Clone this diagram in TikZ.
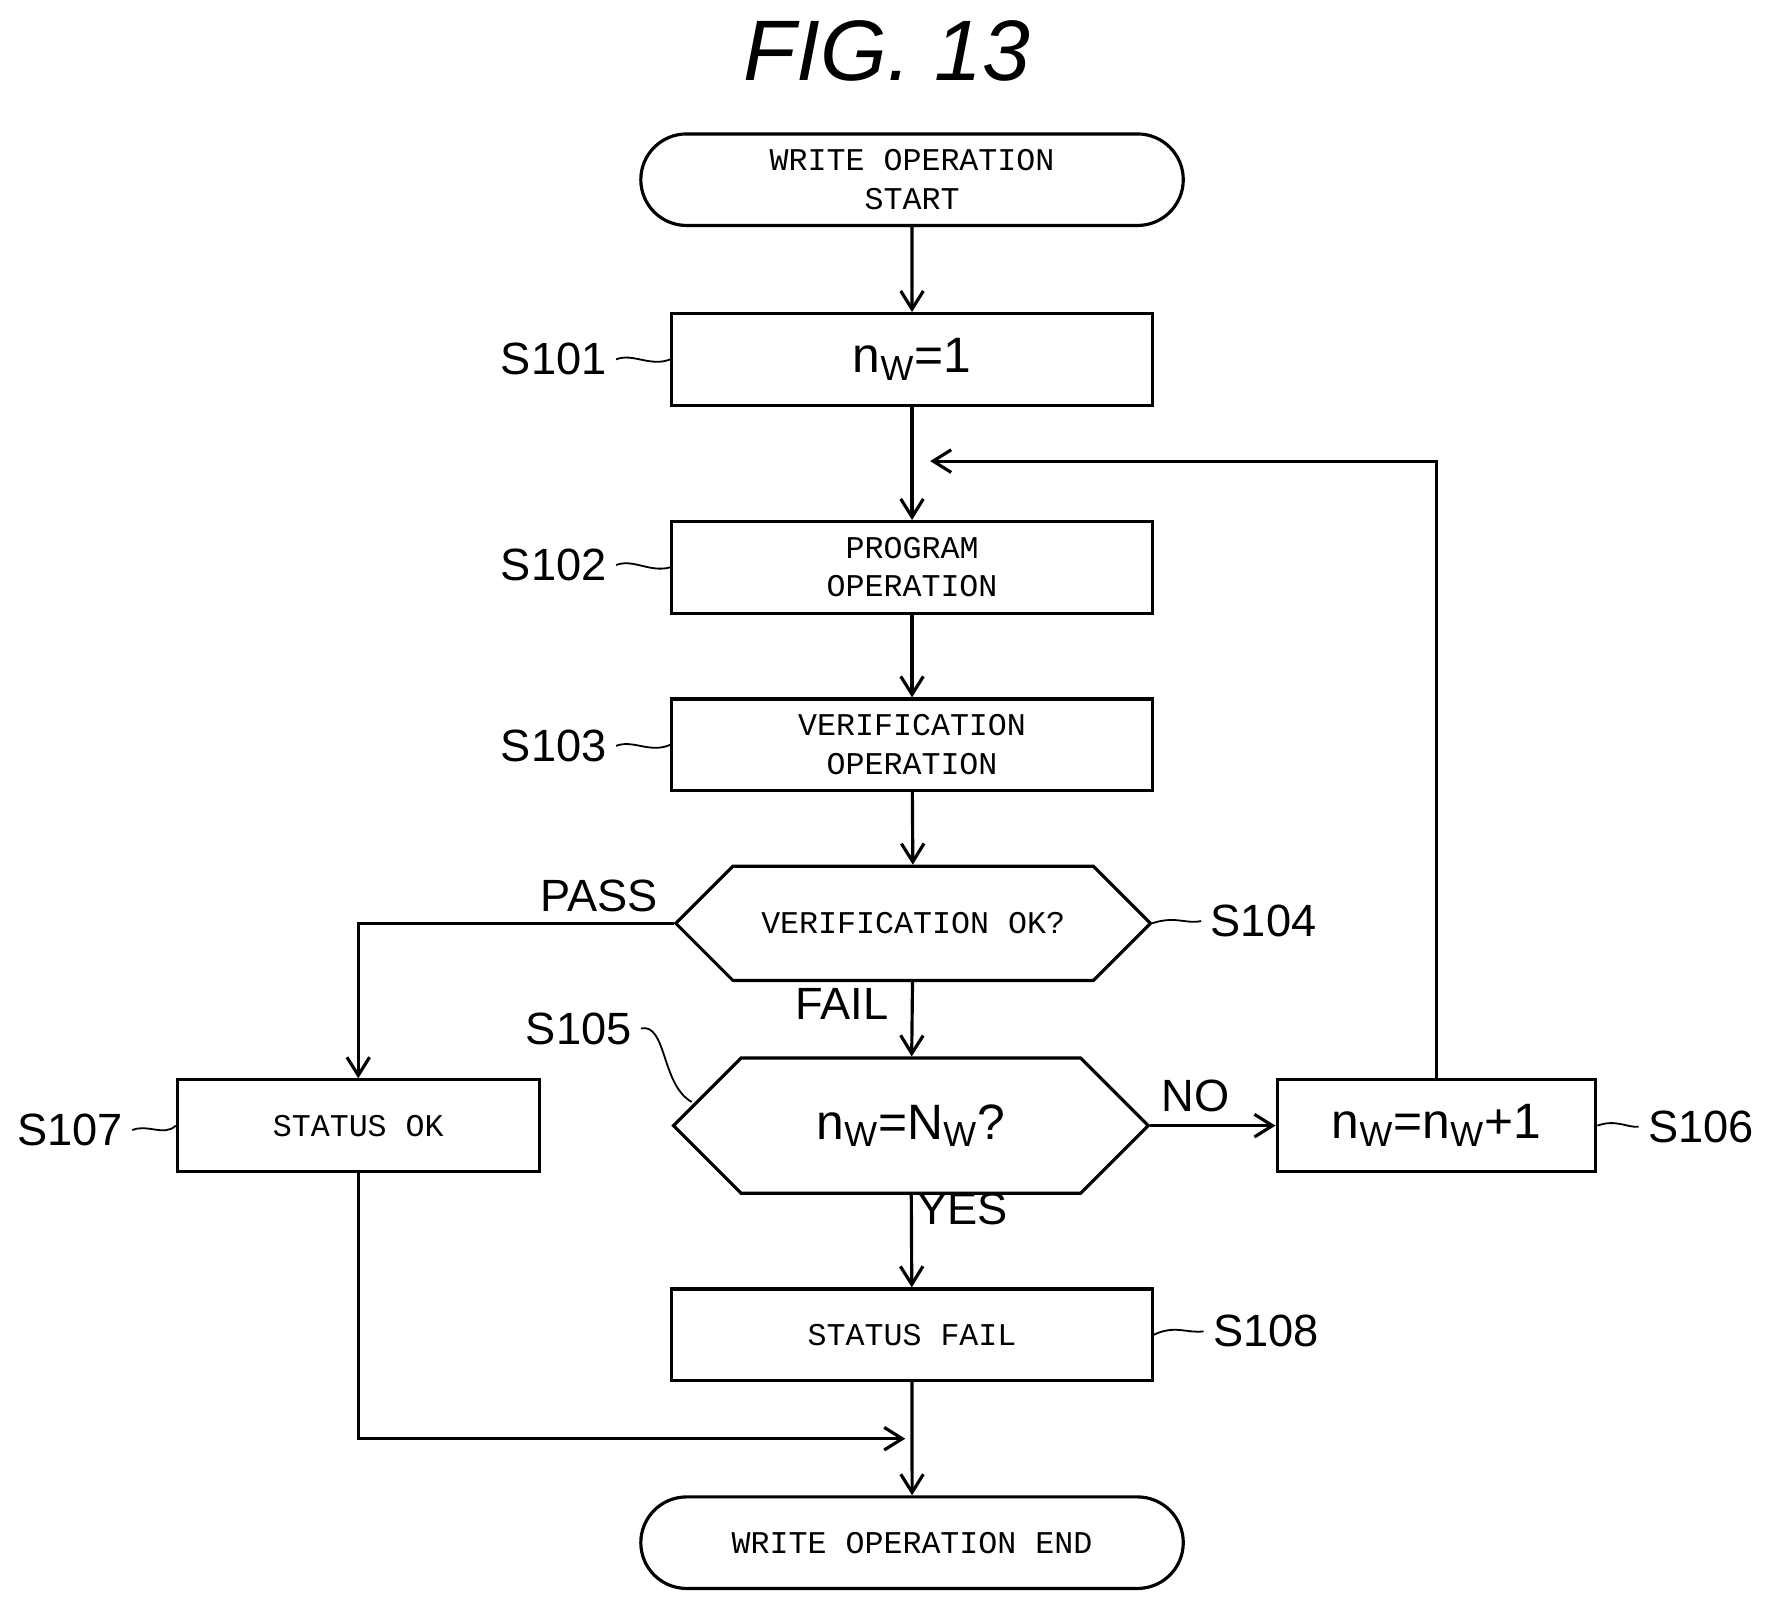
\documentclass[tikz,border=0pt]{standalone}
\usepackage{fontspec}
\setmainfont{Liberation Sans}
\newfontfamily\monof{Liberation Mono}
\usetikzlibrary{arrows.meta,shapes.geometric,shapes.misc}
\begin{document}
\begin{tikzpicture}[x=0.5pt,y=-0.5pt,
  box/.style={draw,line width=1.4pt,minimum width=212.5pt,minimum height=40.5pt,font=\monof\fontsize{14}{17}\selectfont,align=center,inner sep=0},
  term/.style={box,rounded rectangle,minimum width=240pt},
  hex/.style={draw,line width=1.4pt,chamfered rectangle,chamfered rectangle xsep=11pt,chamfered rectangle ysep=20.5pt,minimum width=210pt,minimum height=40.5pt,font=\monof\fontsize{14}{17}\selectfont,inner sep=0},
  lab/.style={font=\fontsize{20}{24}\selectfont,inner sep=0},
  bigt/.style={font=\fontsize{22}{26}\selectfont},
  arr/.style={line width=1.4pt,-{Straight Barb[length=8pt,width=10pt]}},
  ln/.style={line width=1.4pt},
  lead/.style={line width=0.8pt}]
\useasboundingbox (0,0) rectangle (1575,1434);
\node[font=\fontsize{38}{44}\selectfont\itshape] (title) at (785,45) {FIG. 13};
\node[term] (start) at (807,159) {WRITE OPERATION\\START};
\node[box,bigt] (s101) at (807,318) {n\textsubscript{W}=1};
\node[box] (s102) at (807,502) {PROGRAM\\OPERATION};
\node[box] (s103) at (807,659) {VERIFICATION\\OPERATION};
\node[hex] (s104) at (808,817) {VERIFICATION OK?};
\node[hex,bigt] (s105) at (806,996) {n\textsubscript{W}=N\textsubscript{W}?};
\node[box,bigt,minimum width=141pt] (s106) at (1271,996) {n\textsubscript{W}=n\textsubscript{W}+1};
\node[box,minimum width=160pt] (s107) at (317,996) {STATUS OK};
\node[box] (s108) at (807,1181) {STATUS FAIL};
\node[term] (end) at (807,1365) {WRITE OPERATION END};
\coordinate (j1) at (807,408);
\coordinate (j2) at (807,1273);
\draw[arr] (start) -- (s101);
\draw[ln] (s101) -- (j1);
\draw[arr] (j1) -- (s102);
\draw[arr] (s102) -- (s103);
\draw[arr] (s103) -- (s104);
\draw[arr] (s104) -- (s105);
\draw[arr] (s105) -- (s108);
\draw[arr] (s105.east) -- (s106.west);
\draw[arr] (s106.north) |- ([xshift=8pt]j1);
\draw[arr] (s104.west) -| (s107.north);
\draw[arr] (s107.south) |- ([xshift=-3pt]j2);
\draw[arr] (s108) -- (end);
\node[lab] at (530,793) {PASS};
\node[lab] at (745,888) {FAIL};
\node[lab] at (1058,970) {NO};
\node[lab] at (852,1070) {YES};
\node[lab] (l101) at (490,318) {S101};
\node[lab] (l102) at (490,500) {S102};
\node[lab] (l103) at (490,660) {S103};
\node[lab] (l104) at (1118,815) {S104};
\node[lab] (l105) at (512,910) {S105};
\node[lab] (l106) at (1505,997) {S106};
\node[lab] (l107) at (62,1000) {S107};
\node[lab] (l108) at (1120,1178) {S108};
\draw[lead] ([xshift=4]l101.east) .. controls (560,312) and (575,325) .. (s101.west);
\draw[lead] ([xshift=4]l102.east) .. controls (560,494) and (575,507) .. (s102.west);
\draw[lead] ([xshift=4]l103.east) .. controls (560,654) and (575,667) .. (s103.west);
\draw[lead] (s104.east) .. controls (1040,810) and (1050,818) .. ([xshift=-4]l104.west);
\draw[lead] ([xshift=4]l105.east) .. controls (590,905) and (585,960) .. (612,975);
\draw[lead] (s106.east) .. controls (1430,990) and (1440,998) .. ([xshift=-4]l106.west);
\draw[lead] ([xshift=4]l107.east) .. controls (130,994) and (145,1006) .. (s107.west);
\draw[lead] (s108.east) .. controls (1040,1172) and (1050,1180) .. ([xshift=-4]l108.west);
\end{tikzpicture}
\end{document}
